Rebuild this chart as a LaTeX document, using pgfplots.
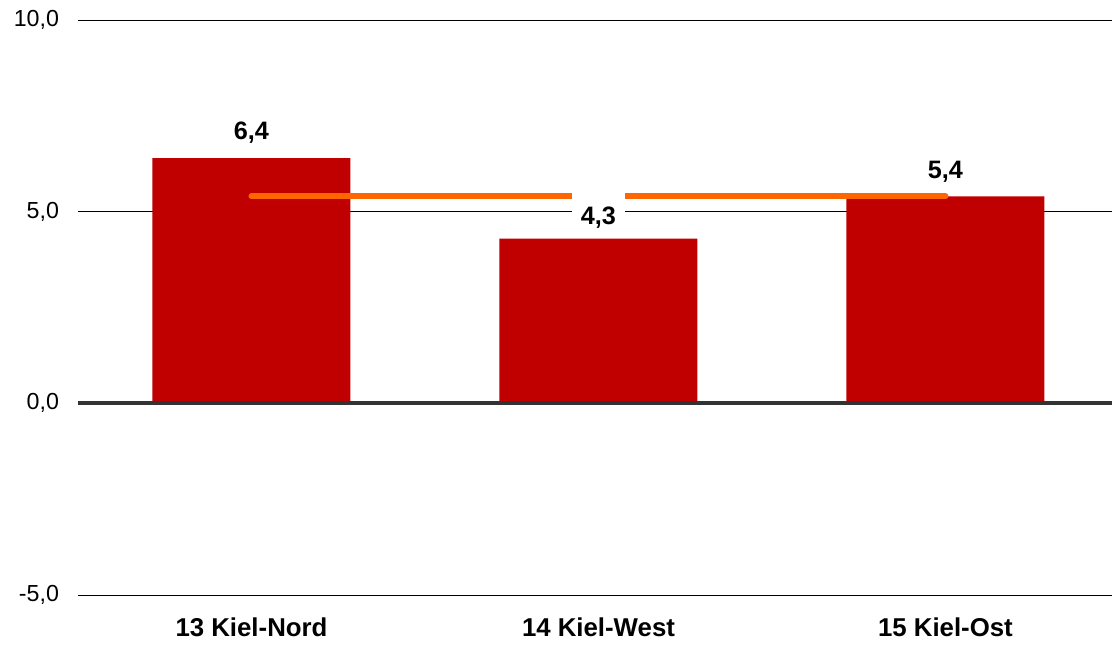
\documentclass[border=0pt]{standalone}
\usepackage{pgfplots}
\pgfplotsset{compat=1.18}
\usepackage{fontspec}
\setmainfont{Liberation Sans}
\definecolor{barred}{HTML}{C00000}
\definecolor{avgorange}{HTML}{FF6600}
\definecolor{zeroline}{HTML}{333333}
\begin{document}
\begin{tikzpicture}
\begin{axis}[
  at={(0,0)}, anchor=south west,
  scale only axis,
  width=517pt, height=287.5pt,
  xmin=-0.5, xmax=2.48,
  ymin=-5, ymax=10,
  ytick={-5,0,5,10},
  xtick={0,1,2},
  xticklabels={13 Kiel-Nord,14 Kiel-West,15 Kiel-Ost},
  axis line style={draw=none},
  major tick length=0pt,
  ymajorgrids,
  grid style={black, line width=0.5pt},
  yticklabel style={font=\fontsize{11.6}{13}\selectfont, anchor=east, xshift=-6pt},
  xticklabel style={font=\fontsize{12.9}{14}\selectfont\bfseries, anchor=center, yshift=-16pt},
  /pgf/number format/.cd, fixed, fixed zerofill, precision=1, use comma, assume math mode=true,
  clip=false,
]
\addplot[ybar, bar width=99pt, bar shift=0pt, fill=barred, draw=none] coordinates {(0,6.4) (1,4.3) (2,5.4)};
\draw[zeroline, line width=2pt] (axis cs:-0.5,0) -- (axis cs:2.48,0);
\addplot[avgorange, line width=3pt, line cap=round, mark=none] coordinates {(0,5.4) (2,5.4)};
\addplot[ybar, bar width=99pt, bar shift=0pt, fill=none, draw=none,
  nodes near coords,
  nodes near coords style={font=\fontsize{12.6}{14}\selectfont\bfseries, fill=white, inner xsep=4.5pt, inner ysep=0pt, minimum height=21pt, anchor=center},
  point meta=explicit symbolic]
  coordinates {(0,7.05)[6,4] (2,6.05)[5,4]};
\addplot[ybar, bar width=99pt, bar shift=0pt, fill=none, draw=none,
  nodes near coords,
  nodes near coords style={font=\fontsize{12.6}{14}\selectfont\bfseries, fill=white, inner xsep=4.5pt, inner ysep=0pt, text height=17pt, text depth=2pt, anchor=base},
  point meta=explicit symbolic]
  coordinates {(1,4.67)[4,3]};
\end{axis}
\pgfresetboundingbox
\path (-39pt,-24.5pt) rectangle (517pt,297.5pt);
\end{tikzpicture}
\end{document}
